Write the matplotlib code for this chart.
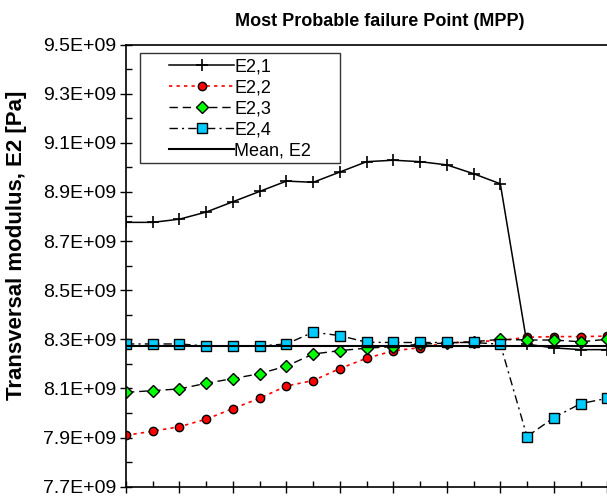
import numpy as np
import matplotlib
matplotlib.use('Agg')
import matplotlib.pyplot as plt
from matplotlib.patches import Rectangle
from matplotlib.ticker import FixedLocator, MultipleLocator, FuncFormatter

plt.rcParams['font.family'] = ['Liberation Sans', 'DejaVu Sans']

# values in units of 1E+09 Pa, one per sample step (only the visible part of the chart)
e2_1 = [8.776, 8.776, 8.789, 8.818, 8.860, 8.902, 8.944, 8.939, 8.981, 9.023,
        9.029, 9.023, 9.010, 8.974, 8.933, 8.280, 8.265, 8.258, 8.258]
e2_2 = [7.909, 7.926, 7.944, 7.975, 8.018, 8.060, 8.110, 8.132, 8.181, 8.223,
        8.253, 8.266, 8.285, 8.290, 8.295, 8.308, 8.311, 8.311, 8.313]
e2_3 = [8.084, 8.091, 8.098, 8.121, 8.140, 8.160, 8.191, 8.240, 8.254, 8.264,
        8.270, 8.280, 8.285, 8.290, 8.300, 8.297, 8.297, 8.290, 8.300]
e2_4 = [8.281, 8.281, 8.281, 8.273, 8.273, 8.273, 8.281, 8.329, 8.315, 8.288,
        8.287, 8.287, 8.287, 8.287, 8.280, 7.904, 7.981, 8.038, 8.060]
e2_mean = 8.271
labels = ['E2,1', 'E2,2', 'E2,3', 'E2,4', 'Mean, E2']
y_major = [7.7, 7.9, 8.1, 8.3, 8.5, 8.7, 8.9, 9.1, 9.3, 9.5]
y_minor = [7.8, 8.0, 8.2, 8.4, 8.6, 8.8, 9.0, 9.2, 9.4]

n = len(e2_1)
x = np.arange(n)
scale = 1e9

fig = plt.figure(figsize=(6.07, 4.97), dpi=100)
# the chart is cropped on the right: axes run past the figure edge
ax = fig.add_axes([126/607, 1-486.7/497, 508/607, 442.2/497])

ax.plot(x, np.array(e2_1)*scale, color='k', lw=1.1, marker='+', ms=8, mew=1.2, label=labels[0])
ax.plot(x, np.array(e2_2)*scale, color='red', lw=1.2, ls=(0, (2, 2.5)), marker='o', ms=6,
        mfc='red', mec='k', mew=1.0, label=labels[1])
ax.plot(x, np.array(e2_3)*scale, color='k', lw=1.0, ls=(0, (6, 3.5)), marker='D', ms=6,
        mfc='#00ff00', mec='k', mew=1.0, label=labels[2])
ax.plot(x, np.array(e2_4)*scale, color='k', lw=1.0, ls=(0, (6, 3, 1.5, 3)), marker='s', ms=6.5,
        mfc='#00ccff', mec='k', mew=1.0, label=labels[3])
ax.plot([0, 19], [e2_mean*scale, e2_mean*scale], color='k', lw=1.5, label=labels[4])

ax.set_xlim(0, 19)
ax.set_ylim(7.7e9, 9.5e9)
ax.yaxis.set_major_locator(FixedLocator(np.array(y_major)*scale))
ax.yaxis.set_minor_locator(FixedLocator(np.array(y_minor)*scale))
ax.xaxis.set_major_locator(MultipleLocator(2))
ax.xaxis.set_minor_locator(MultipleLocator(1))
ax.yaxis.set_major_formatter(FuncFormatter(lambda v, p: '{:.1E}'.format(v)))
ax.tick_params(which='major', direction='inout', length=8, width=1, labelsize=14, pad=3)
ax.tick_params(which='minor', direction='in', length=4, width=1)
ax.tick_params(axis='x', labelbottom=False)
for s in ax.spines.values():
    s.set_linewidth(1.2)

ax.set_title('Most Probable failure Point (MPP)', fontsize=13, fontweight='bold', pad=13)
ax.set_ylabel('Transversal modulus, E2 [Pa]', fontsize=16, fontweight='bold')
ax.yaxis.set_label_coords(-0.195, 0.545)

leg = ax.legend(loc='upper left', bbox_to_anchor=(160/607, 1-49.5/497), bbox_transform=fig.transFigure,
                frameon=False, fontsize=13, handlelength=3.6, handletextpad=0.0,
                borderpad=0, labelspacing=0.22)
fig.patches.append(Rectangle((140/607, 1-163/497), 200/607, 110.3/497, transform=fig.transFigure,
                             fill=False, ec='#333333', lw=1.0))

fig.savefig('out.png', dpi=100)
